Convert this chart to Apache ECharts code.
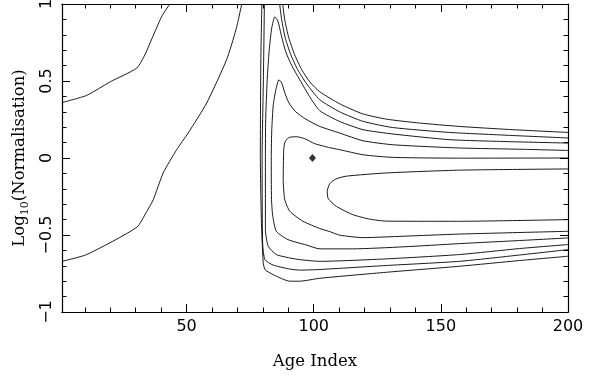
<!DOCTYPE html>
<html>
<head>
<meta charset="utf-8">
<style>
  html, body { margin: 0; padding: 0; background: #fff; }
  #chart { width: 601px; height: 378px; }
</style>
<script src="https://cdn.jsdelivr.net/npm/echarts@6/dist/echarts.min.js"></script>
</head>
<body>
<div id="chart"></div>
<script>
// ---- tick definitions ----
const xMajorTicks = [50, 100, 150, 200];
const xMinorTicks = [10, 20, 30, 40, 60, 70, 80, 90, 110, 120, 130, 140, 160, 170, 180, 190];
const yRange = [-1, 1];
const yMajorStep = 0.5;

// ---- contour lines [age index, log10 normalisation] ----
const contourLeftUpper = [[1, 0.36], [10.6, 0.406], [20, 0.495], [30.4, 0.584], [33.6, 0.67], [37, 0.8], [40.4, 0.925], [43.4, 1.0]];
const contourLeftLower = [[1, -0.671], [10.7, -0.627], [30.4, -0.45], [34.3, -0.348], [36.9, -0.27], [40.8, -0.097], [46.1, 0.054], [50.6, 0.162], [57.9, 0.357], [65.7, 0.637], [69.4, 0.832], [71.7, 1.0]];

const contour1Wall = [[79.6, 1.0], [79.2, 0.637], [79.0, 0.008], [79.4, -0.4], [80.1, -0.672], [80.8, -0.724], [84.0, -0.757], [90.6, -0.8], [94.5, -0.8], [102.4, -0.781], [128.6, -0.742], [157.3, -0.703], [180.9, -0.666], [200, -0.638]];
const contour1Arm = [[87.8, 1.0], [88.6, 0.897], [90.2, 0.78], [92.5, 0.67], [95.3, 0.573], [98.4, 0.495], [102.4, 0.43], [110.2, 0.352], [119.2, 0.287], [128.7, 0.252], [141.6, 0.227], [157.3, 0.205], [177.0, 0.185], [200, 0.166]];

const contour2Wall = [[80.6, 1.0], [80.2, 0.508], [79.7, 0.008], [79.9, -0.551], [80.8, -0.66], [84.0, -0.695], [90.6, -0.721], [94.5, -0.728], [102.4, -0.724], [128.6, -0.698], [157.3, -0.671], [180.9, -0.63], [200, -0.595]];
const contour2Arm = [[86.6, 1.0], [87.4, 0.897], [88.8, 0.78], [91.0, 0.67], [93.7, 0.573], [97.2, 0.482], [102.4, 0.378], [110.2, 0.3], [119.2, 0.239], [131.0, 0.198], [153.4, 0.166], [177.0, 0.147], [200, 0.13]];

const contour3 = [[200, -0.562], [180.9, -0.588], [157.3, -0.627], [128.6, -0.655], [102.4, -0.671], [94.5, -0.66], [90.6, -0.649], [85.3, -0.627], [82.1, -0.573], [81.0, -0.465], [81.0, 0.008], [81.1, 0.248], [81.7, 0.508], [82.5, 0.702], [83.5, 0.845], [84.7, 0.916], [85.9, 0.89], [87.2, 0.8], [89.0, 0.689], [91.4, 0.599], [94.5, 0.508], [98.4, 0.398], [102.4, 0.307], [110.2, 0.237], [119.4, 0.184], [131.1, 0.156], [153.4, 0.119], [177.0, 0.106], [200, 0.097]];

const contour4 = [[200, -0.519], [180.9, -0.536], [157.3, -0.556], [135.1, -0.577], [115.4, -0.59], [102.4, -0.59], [97.1, -0.565], [89.9, -0.53], [85.3, -0.476], [83.9, -0.379], [83.4, -0.27], [83.3, 0.008], [83.5, 0.184], [84.1, 0.346], [85.1, 0.443], [86.3, 0.508], [87.4, 0.488], [88.6, 0.424], [90.2, 0.359], [92.9, 0.3], [96.9, 0.252], [102.4, 0.205], [110.2, 0.162], [119.4, 0.112], [131.1, 0.086], [157.3, 0.065], [180.9, 0.057], [200, 0.049]];

const contour5 = [[200, -0.476], [157.3, -0.494], [135.1, -0.508], [119.4, -0.517], [110.2, -0.501], [106.3, -0.478], [102.4, -0.458], [95.8, -0.411], [90.6, -0.346], [88.6, -0.27], [88.0, -0.141], [88.2, 0.054], [88.6, 0.099], [89.4, 0.122], [90.6, 0.135], [93.3, 0.138], [96.5, 0.125], [100.4, 0.093], [106.3, 0.067], [110.2, 0.054], [119.4, 0.021], [131.1, 0.004], [157.3, -0.001], [200, 0.0]];

const contour6 = [[200, -0.071], [157.3, -0.079], [128.6, -0.097], [112.8, -0.118], [108.6, -0.137], [106.3, -0.167], [105.3, -0.217], [105.7, -0.264], [108.9, -0.314], [115.4, -0.368], [122.0, -0.397], [128.6, -0.41], [157.3, -0.411], [200, -0.4]];

const bestFit = [[99.5, 0.0]];

// ---- build chart ----
const contourSets = [contourLeftUpper, contourLeftLower, contour1Wall, contour1Arm, contour2Wall, contour2Arm, contour3, contour4, contour5, contour6];

const lineColor = '#000';
const frame = { show: true, onZero: false, lineStyle: { color: '#000', width: 1.2 } };

function xAx(pos, ticks, len, labels) {
  return {
    type: 'value', position: pos, min: 1, max: 200,
    axisLine: frame,
    axisTick: { show: true, inside: true, length: len, customValues: ticks, lineStyle: { color: '#000', width: 1 } },
    axisLabel: labels ? {
      show: true, customValues: xMajorTicks, margin: 7,
      fontFamily: 'DejaVu Sans', fontSize: 16, color: '#000'
    } : { show: false },
    splitLine: { show: false }
  };
}
function yAx(pos, labels) {
  return {
    type: 'value', position: pos, min: yRange[0], max: yRange[1], interval: yMajorStep,
    axisLine: frame,
    axisTick: { show: true, inside: true, length: 8, lineStyle: { color: '#000', width: 1 } },
    minorTick: { show: true, splitNumber: 5, length: 4.5, lineStyle: { color: '#000', width: 1 } },
    axisLabel: labels ? {
      show: true, rotate: 90, margin: 7,
      fontFamily: 'DejaVu Sans', fontSize: 16, color: '#000',
      formatter: v => String(v).replace('-', '\u2212')
    } : { show: false },
    splitLine: { show: false }, minorSplitLine: { show: false }
  };
}

const xAxes = [xAx('bottom', xMajorTicks, 8, true), xAx('bottom', xMinorTicks, 4.5, false), xAx('top', xMajorTicks, 8, false), xAx('top', xMinorTicks, 4.5, false)];
xAxes[0].name = 'Age Index';
xAxes[0].nameLocation = 'middle';
xAxes[0].nameGap = 41;
xAxes[0].nameTextStyle = { fontFamily: 'DejaVu Serif', fontSize: 16.5, color: '#000' };

const yAxes = [yAx('left', true), yAx('right', false)];
yAxes[0].name = '{m|Log}{s|10}{m|(Normalisation)}';
yAxes[0].nameLocation = 'middle';
yAxes[0].nameRotate = 90;
yAxes[0].nameGap = 31;
yAxes[0].nameTextStyle = {
  fontFamily: 'DejaVu Serif', fontSize: 16.5, color: '#000',
  rich: {
    m: { fontFamily: 'DejaVu Serif', fontSize: 16.5, lineHeight: 17, verticalAlign: 'top', color: '#000' },
    s: { fontFamily: 'DejaVu Serif', fontSize: 11, lineHeight: 11, verticalAlign: 'top', padding: [9, 0, 0, 0], color: '#000' }
  }
};

const series = contourSets.map(d => ({
  type: 'line', data: d, xAxisIndex: 0, yAxisIndex: 0,
  showSymbol: false, symbol: 'none', smooth: 0.2, silent: true,
  lineStyle: { color: lineColor, width: 0.9 }, animation: false
}));
series.push({
  type: 'scatter', data: bestFit, xAxisIndex: 0, yAxisIndex: 0,
  symbol: 'diamond', symbolSize: [7, 8], itemStyle: { color: '#000' }, animation: false
});

const chart = echarts.init(document.getElementById('chart'), null, { renderer: 'canvas' });
chart.setOption({
  backgroundColor: '#fff',
  animation: false,
  grid: { left: 62, right: 33, top: 4, bottom: 66, outerBoundsMode: 'none' },
  xAxis: xAxes,
  yAxis: yAxes,
  series: series
});
</script>
</body>
</html>
